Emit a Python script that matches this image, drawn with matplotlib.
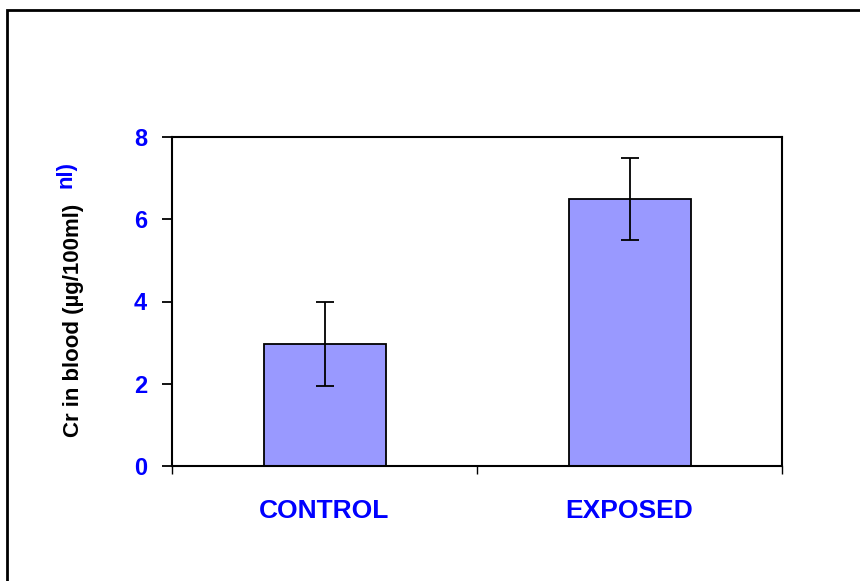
import matplotlib
matplotlib.use('Agg')
import matplotlib.pyplot as plt
from matplotlib.patches import Rectangle

groups = ['CONTROL', 'EXPOSED']
means = [2.97, 6.5]
errors = [1.02, 1.0]
yticks = [0, 2, 4, 6, 8]

plt.rcParams['font.family'] = ['Liberation Sans', 'DejaVu Sans']
plt.rcParams['font.weight'] = 'bold'

fig = plt.figure(figsize=(8.6, 5.81), dpi=100)
ax = fig.add_axes([172/860, 1-466/581, 610/860, 329/581])

x = list(range(len(groups)))
ax.bar(x, means, width=0.4, color='#9999FF', edgecolor='black', linewidth=1.3, zorder=2)
ax.errorbar(x, means, yerr=errors, fmt='none', ecolor='black', elinewidth=1.3,
            capsize=6.5, capthick=1.3, zorder=3)

ax.set_xlim(-0.5, 1.5)
ax.set_ylim(0, 8)
ax.set_yticks(yticks)
ax.set_yticklabels([str(v) for v in yticks], color='#0000FF', fontsize=17, fontweight='bold')
ax.tick_params(axis='y', length=7, width=1.3, pad=11, direction='out')

ax.set_xticks(x)
ax.set_xticklabels(groups, color='#0000FF', fontsize=19, fontweight='bold')
ax.tick_params(axis='x', which='major', length=0, pad=24)
ax.set_xticks([-0.5, 0.5, 1.5], minor=True)
ax.tick_params(axis='x', which='minor', length=6, width=1.0, direction='out')

for s in ax.spines.values():
    s.set_linewidth(1.5)
    s.set_color('black')

fig.text(73/860, 1-320/581, 'Cr in blood (\u00b5g/100ml)', rotation=90, ha='center', va='center',
         fontsize=16, fontweight='bold', color='black')
fig.text(66/860, 1-175/581, 'nl)', rotation=90, ha='center', va='center',
         fontsize=16, fontweight='bold', color='#0000FF')

# outer frame (cut off at right and bottom like the original)
fig.patches.append(Rectangle((7/860, -0.1), 1.2, 1-10/581+0.1, transform=fig.transFigure,
                             fill=False, edgecolor='black', linewidth=2))

fig.savefig('out.png', dpi=100)
